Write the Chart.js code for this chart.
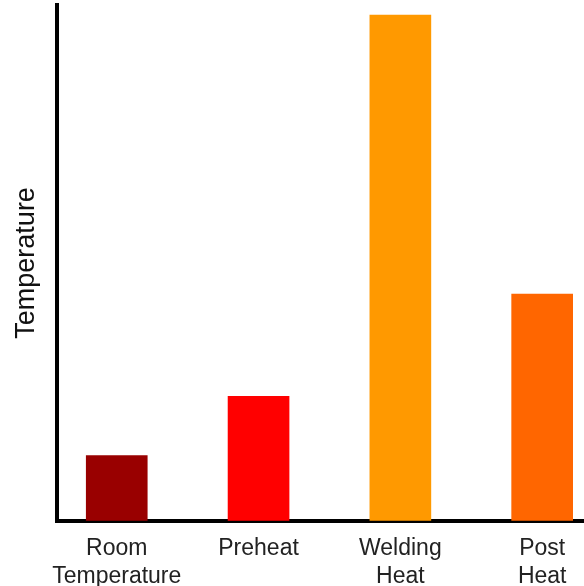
<!DOCTYPE html>
<html>
<head>
<meta charset="utf-8">
<script src="https://cdn.jsdelivr.net/npm/chart.js@4/dist/chart.umd.min.js"></script>
<style>
  html, body { margin: 0; padding: 0; background: #fff; }
  #wrap { width: 584px; height: 586px; }
</style>
</head>
<body>
<div id="wrap"><canvas id="c" width="584" height="586"></canvas></div>
<script>
// Heat stages and their relative temperature levels (arbitrary units, no scale shown)
const categories = [["Room", "Temperature"], ["Preheat"], ["Welding", "Heat"], ["Post", "Heat"]];
const positions = [0, 1, 2, 3];
const temperatures = [65, 124, 504, 226];
const barColors = ["#990000", "#ff0000", "#ff9900", "#ff6600"];

const points = positions.map((p, i) => ({ x: p, y: temperatures[i] }));
const font = "Liberation Sans, Arial, Helvetica, sans-serif";

new Chart(document.getElementById("c"), {
  type: "bar",
  data: {
    datasets: [{
      data: points,
      backgroundColor: barColors,
      borderWidth: 0,
      barThickness: 61
    }]
  },
  options: {
    responsive: false,
    animation: false,
    plugins: { legend: { display: false }, tooltip: { enabled: false } },
    layout: { padding: { top: 5, right: 0, bottom: -18, left: 10 } },
    scales: {
      x: {
        type: "linear",
        offset: false,
        min: -0.4185,
        max: 3.295,
        afterBuildTicks: (scale) => { scale.ticks = positions.map(v => ({ value: v })); },
        grid: { display: false, drawTicks: false, offset: false },
        border: { display: true, color: "#000", width: 4 },
        ticks: {
          color: "#222",
          padding: 14,
          maxRotation: 0,
          autoSkip: false,
          font: { family: font, size: 23 },
          callback: (v) => categories[v]
        }
      },
      y: {
        min: 0,
        max: 514,
        grid: { display: false, drawTicks: false },
        border: { display: true, color: "#000", width: 4 },
        ticks: { display: false },
        title: {
          display: true,
          text: "Temperature",
          color: "#111",
          padding: { top: 0, bottom: 15 },
          font: { family: font, size: 27 }
        }
      }
    }
  }
});
</script>
</body>
</html>
